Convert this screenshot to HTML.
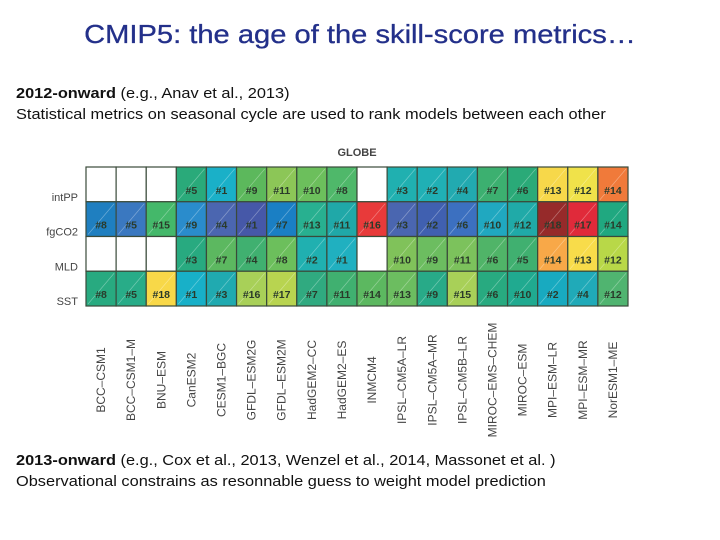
<!DOCTYPE html>
<html><head><meta charset="utf-8"><style>
body{margin:0;width:720px;height:540px;background:#fff;font-family:"Liberation Sans",sans-serif;position:relative;overflow:hidden}
.t{position:absolute;white-space:nowrap}
</style></head><body>
<div class="t" style="left:0;width:720px;text-align:center;top:19px;font-size:26px;color:#23308a;transform:scaleX(1.12);-webkit-text-stroke:0.3px #23308a">CMIP5: the age of the skill-score metrics…</div>
<div class="t" style="left:16px;top:83px;font-size:15px;line-height:21px;color:#111;transform:scaleX(1.09);transform-origin:left top"><b>2012-onward</b> (e.g., Anav et al., 2013)<br>Statistical metrics on seasonal cycle are used to rank models between each other</div>
<svg id="chart" width="720" height="540" style="position:absolute;left:0;top:0"></svg>
<div class="t" style="left:16px;top:450px;font-size:15px;line-height:21px;color:#111;transform:scaleX(1.09);transform-origin:left top"><b>2013-onward</b> (e.g., Cox et al., 2013, Wenzel et al., 2014, Massonet et al. )<br>Observational constrains as resonnable guess to weight model prediction</div>
<script>
const models=["BCC–CSM1","BCC–CSM1–M","BNU–ESM","CanESM2","CESM1–BGC","GFDL–ESM2G","GFDL–ESM2M","HadGEM2–CC","HadGEM2–ES","INMCM4","IPSL–CM5A–LR","IPSL–CM5A–MR","IPSL–CM5B–LR","MIROC–EMS–CHEM","MIROC–ESM","MPI–ESM–LR","MPI–ESM–MR","NorESM1–ME"];
const variables=["intPP","fgCO2","MLD","SST"];
const rankIntPP=[null,null,null,5,1,9,11,10,8,null,3,2,4,7,6,13,12,14];
const rankFgCO2=[8,5,15,9,4,1,7,13,11,16,3,2,6,10,12,18,17,14];
const rankMLD=[null,null,null,3,7,4,8,2,1,null,10,9,11,6,5,14,13,12];
const rankSST=[8,5,18,1,3,16,17,7,11,14,13,9,15,6,10,2,4,12];
const colIntPP=[null,null,null,"#2aaa7a","#1ab0c8","#5cb85c","#8cc657","#6cbf5c","#4fb86a",null,"#20b0b0","#20b0b5","#22aab0","#3cb070","#2aaa78","#f7d84a","#f0e24a","#f07a3a"];
const colFgCO2=["#1f7fc0","#3a78c0","#44b86a","#2a8ccc","#4b66b0","#4658a8","#1a7fc4","#28b090","#20a8a8","#e83a3a","#4a66b0","#4060b0","#3c70c0","#20a8c0","#20aaa8","#962a2a","#e02a3a","#20a880"];
const colMLD=[null,null,null,"#28aa80","#5cb860","#40b070","#6cbf5c","#20b0b0","#20b0c0",null,"#80c25a","#6cbd60","#7cc25c","#50b468","#40b070","#f8a848","#f8dc4a","#b8d848"];
const colSST=["#28aa80","#28ac88","#f8d848","#18b0c8","#20aab0","#a8d058","#b8d450","#30aa80","#40b070","#5cb860","#6cbd60","#28aa88","#a8d058","#28aa80","#20aa90","#18aac0","#20aab8","#50b470"];
const ranks=[rankIntPP,rankFgCO2,rankMLD,rankSST];
const cols=[colIntPP,colFgCO2,colMLD,colSST];
const NS="http://www.w3.org/2000/svg";
const svg=document.getElementById("chart");
const X0=86,X1=628,Y0=167,Y1=306;
const cw=(X1-X0)/models.length, ch=(Y1-Y0)/variables.length;
const xs=i=>X0+i*cw, ys=j=>Y0+j*ch;
function mk(tag,attrs,parent){const e=document.createElementNS(NS,tag);for(const k in attrs)e.setAttribute(k,attrs[k]);(parent||svg).appendChild(e);return e;}
const g=mk("text",{x:357,y:156,"font-size":11,"font-weight":"bold","text-anchor":"middle",fill:"#444"});
g.textContent="GLOBE";


for(let j=0;j<variables.length;j++){
  const lab=mk("text",{x:X0-8,y:ys(j)+ch-1,"font-size":11,"text-anchor":"end",fill:"#444"});
  lab.textContent=variables[j];
  
  
  for(let i=0;i<models.length;i++){
    const r=ranks[j][i];
    const c=cols[j][i]||"#fff";
    const rect=mk("rect",{x:xs(i),y:ys(j),width:cw,height:ch,fill:c,stroke:"#3a4a3a","stroke-width":1.2});
    
    
    if(r!==null){
      mk("line",{x1:xs(i)+2,y1:ys(j)+ch-2,x2:xs(i)+cw-2,y2:ys(j)+2,stroke:"rgba(255,255,255,0.35)","stroke-width":0.7});
      const t=mk("text",{x:xs(i)+cw/2,y:ys(j)+ch-8,"font-size":10.5,"font-weight":"bold","text-anchor":"middle",fill:"#2a3a2a"});
      t.textContent="#"+r;
      
      
    }
  }
}
for(let i=0;i<models.length;i++){
  const cx=xs(i)+cw/2+4, cy=380;
  const t=mk("text",{x:cx,y:cy,"font-size":12,"text-anchor":"middle",fill:"#444",transform:`rotate(-90 ${cx} ${cy})`});
  t.textContent=models[i];
  
  
}
</script>
</body></html>
